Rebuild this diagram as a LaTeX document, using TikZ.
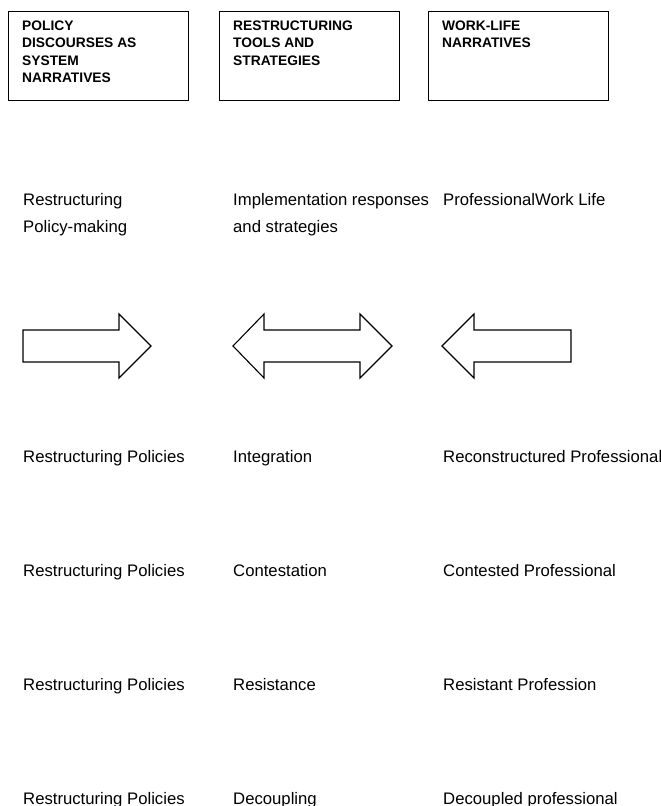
\documentclass[tikz,border=0pt]{standalone}
\usepackage{fontspec}
\setmainfont{Liberation Sans}
\begin{document}
\begin{tikzpicture}[x=1pt,y=-1pt,
  hdrbox/.style={draw=black,line width=1.1pt,minimum width=180pt,minimum height=88.5pt,anchor=north west,inner sep=0pt},
  hdrtext/.style={anchor=north west,align=left,inner sep=0pt,font=\fontsize{13.8}{17.5}\selectfont\bfseries},
  body/.style={anchor=base west,inner sep=0pt,font=\fontsize{16.7}{20}\selectfont},
  blockarrow/.style={draw=black,line width=1.1pt,line join=miter}]
\useasboundingbox (0,0) rectangle (661,806);
% header boxes
\node[hdrbox] (b1) at (7.5,11) {};
\node[hdrbox] (b2) at (218.5,11) {};
\node[hdrbox] (b3) at (428,11) {};
\node[hdrtext] (t1) at (22,20.3) {POLICY\\DISCOURSES AS\\SYSTEM\\NARRATIVES};
\node[hdrtext] (t2) at (233,20.3) {RESTRUCTURING\\TOOLS AND\\STRATEGIES};
\node[hdrtext] (t3) at (442,20.3) {WORK-LIFE\\NARRATIVES};
% upper texts
\node[body] (u1a) at (23,205) {Restructuring};
\node[body] (u1b) at (23,232) {Policy-making};
\node[body] (u2a) at (233,205) {Implementation responses};
\node[body] (u2b) at (233,232) {and strategies};
\node[body] (u3a) at (443,205) {ProfessionalWork Life};
% block arrows
\draw[blockarrow] (23,330) -- (119,330) -- (119,314) -- (151,346) -- (119,378) -- (119,362) -- (23,362) -- cycle;
\draw[blockarrow] (233,346) -- (264,314) -- (264,330) -- (360,330) -- (360,314) -- (392,346) -- (360,378) -- (360,362) -- (264,362) -- (264,378) -- cycle;
\draw[blockarrow] (442,346) -- (474,314) -- (474,330) -- (571,330) -- (571,362) -- (474,362) -- (474,378) -- cycle;
% rows
\node[body] (r1a) at (23,462) {Restructuring Policies};
\node[body] (r1b) at (233,462) {Integration};
\node[body] (r1c) at (443,462) {Reconstructured Professional};
\node[body] (r2a) at (23,576) {Restructuring Policies};
\node[body] (r2b) at (233,576) {Contestation};
\node[body] (r2c) at (443,576) {Contested Professional};
\node[body] (r3a) at (23,690) {Restructuring Policies};
\node[body] (r3b) at (233,690) {Resistance};
\node[body] (r3c) at (443,690) {Resistant Profession};
\node[body] (r4a) at (23,804) {Restructuring Policies};
\node[body] (r4b) at (233,804) {Decoupling};
\node[body] (r4c) at (443,804) {Decoupled professional};
\end{tikzpicture}
\end{document}
